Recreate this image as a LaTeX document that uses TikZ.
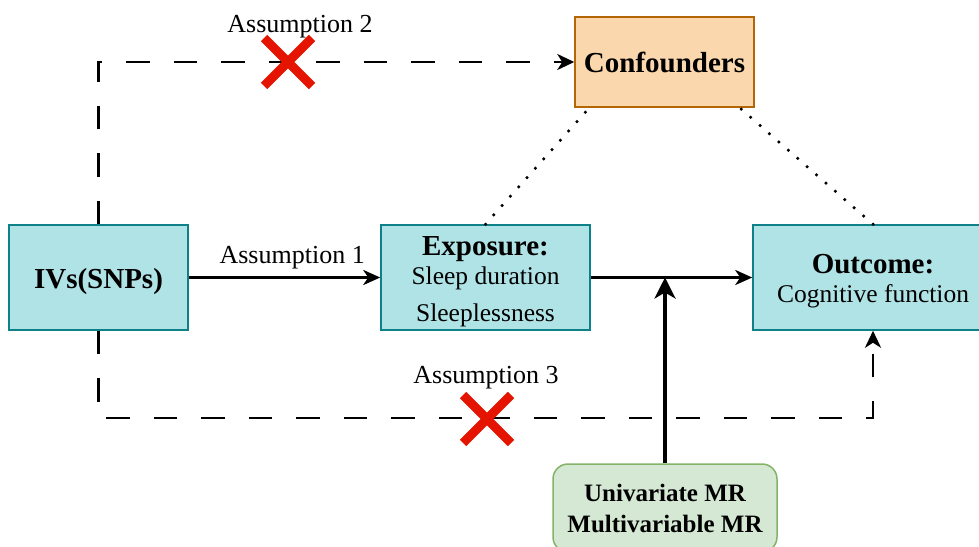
\documentclass[tikz,border=0pt]{standalone}
\usepackage{fontspec}
\setmainfont{Liberation Serif}
\usetikzlibrary{arrows.meta,shapes.misc}
\definecolor{tealfill}{HTML}{B0E3E6}
\definecolor{tealline}{HTML}{0E8088}
\definecolor{orangefill}{HTML}{FAD7AC}
\definecolor{orangeline}{HTML}{B46504}
\definecolor{greenfill}{HTML}{D5E8D4}
\definecolor{greenline}{HTML}{82B366}
\definecolor{crossred}{HTML}{E51400}
\tikzset{
  box/.style={draw=tealline,fill=tealfill,line width=1.5pt,inner sep=0pt,
    align=center,font=\fontsize{25.5}{29}\selectfont},
  confbox/.style={draw=orangeline,fill=orangefill,line width=1.5pt,inner sep=0pt,
    font=\bfseries\fontsize{29}{33}\selectfont},
  methodbox/.style={draw=greenline,fill=greenfill,line width=1.5pt,inner sep=0pt,
    rounded corners=15pt,align=center,font=\bfseries\fontsize{25}{31}\selectfont},
  note/.style={font=\fontsize{26}{30}\selectfont,inner sep=0pt},
  crossmark/.style={cross out,draw=crossred,line width=9pt,inner sep=0pt,
    minimum size=39pt},
  solidarrow/.style={line width=3pt,-{Stealth[length=17pt,width=15pt,inset=5pt]}},
  dasharrow/.style={line width=2.5pt,dash pattern=on 23.5pt off 24pt,
    -{Stealth[length=17pt,width=16pt,inset=5pt]}},
  dotline/.style={line width=3.5pt,line cap=round,dash pattern=on 0pt off 12.5pt}
}
\begin{document}
\begin{tikzpicture}[x=1pt,y=-1pt]
  \useasboundingbox (0,0) rectangle (979,546);
  \node [box,minimum width=179pt,minimum height=105pt,text height=28pt] (ivs) at (98.5,277.5)
    {\textbf{\fontsize{29}{33}\selectfont IVs(SNPs)}};
  \node [box,minimum width=209pt,minimum height=105pt,text height=92.5pt] (exp) at (485.5,277.5)
    {\textbf{\fontsize{29}{33}\selectfont Exposure:}\\Sleep duration\\[8pt]Sleeplessness};
  \node [box,minimum width=240pt,minimum height=105pt,text height=54.6pt] (out) at (873,277.5)
    {\textbf{\fontsize{29}{33}\selectfont Outcome:}\\Cognitive function};
  \node [confbox,minimum width=179pt,minimum height=90pt] (conf) at (664.5,62) {Confounders};
  \node [methodbox,minimum width=224pt,minimum height=88pt] (mr) at (665,508)
    {Univariate MR\\Multivariable MR};
  \coordinate (low) at (0,418);
  \draw [solidarrow] (ivs) -- node [note,pos=0.54,above=7pt] (a1) {Assumption 1} (exp);
  \draw [solidarrow] (exp) -- (out);
  \draw [line width=4pt,-{Stealth[length=21pt,width=21pt,inset=6pt]}] (mr.north) -- (mr.north |- exp.east);
  \draw [dasharrow] (ivs.north) |- (conf.west);
  \draw [dasharrow] (ivs.south) |- (out.south |- low) -- (out.south);
  \draw [dotline] (exp.north) -- ([xshift=15pt]conf.south west);
  \draw [dotline] (out.north) -- ([xshift=-15pt]conf.south east);
  \node [note] (a2) at (300,27) {Assumption 2};
  \node [note] (a3) at (486,378) {Assumption 3};
  \node [crossmark] (x2) at (288,62) {};
  \node [crossmark] (x3) at (487,419) {};
\end{tikzpicture}
\end{document}
